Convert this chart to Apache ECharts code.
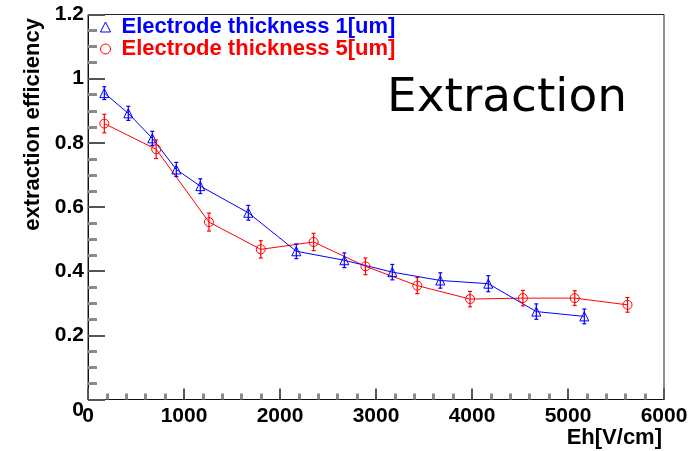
<!DOCTYPE html>
<html>
<head>
<meta charset="utf-8">
<script src="https://cdn.jsdelivr.net/npm/echarts@6/dist/echarts.min.js"></script>
<style>html,body{margin:0;padding:0;background:#fff;}#c{width:700px;height:451px;}</style>
</head>
<body>
<div id="c"></div>
<script>
// ---- data ----
var blueName = 'Electrode thickness 1[um]';
var redName = 'Electrode thickness 5[um]';
var blueX = [170, 420, 670, 920, 1170, 1670, 2170, 2670, 3170, 3670, 4170, 4670, 5170];
var blueY = [0.955, 0.892, 0.814, 0.717, 0.665, 0.582, 0.462, 0.434, 0.397, 0.371, 0.361, 0.274, 0.259];
var blueErr = [0.02, 0.022, 0.022, 0.022, 0.023, 0.023, 0.023, 0.023, 0.024, 0.024, 0.025, 0.024, 0.023];
var redX = [170, 710, 1260, 1800, 2350, 2890, 3430, 3980, 4530, 5070, 5620];
var redY = [0.860, 0.780, 0.553, 0.468, 0.491, 0.415, 0.355, 0.313, 0.316, 0.316, 0.295];
var redErr = [0.029, 0.029, 0.028, 0.027, 0.027, 0.026, 0.025, 0.024, 0.024, 0.023, 0.023];
var xTicks = {min: 0, max: 6000, interval: 1000};
var yTicks = {min: 0, max: 1.2, interval: 0.2};
var xTitle = 'Eh[V/cm]';
var yTitle = 'extraction efficiency';
var label = 'Extraction';

var BLUE = '#0000ff', RED = '#ff0000';
var TICK = '#555555';
var MINOR = '#8a8a8a';
var FONT = '"Liberation Sans", Arial, Helvetica, sans-serif';

function pts(xs, ys) { return xs.map(function (x, i) { return [x, ys[i]]; }); }
function errPts(xs, ys, es) { return xs.map(function (x, i) { return [x, ys[i], es[i]]; }); }

function errRender(color) {
  return function (params, api) {
    var x = api.value(0), y = api.value(1), e = api.value(2);
    var top = api.coord([x, y + e]);
    var bot = api.coord([x, y - e]);
    var cw = 2;
    var st = {stroke: color, lineWidth: 1.2};
    return {
      type: 'group',
      children: [
        {type: 'line', shape: {x1: top[0], y1: top[1], x2: bot[0], y2: bot[1]}, style: st},
        {type: 'line', shape: {x1: top[0] - cw, y1: top[1], x2: top[0] + cw, y2: top[1]}, style: st},
        {type: 'line', shape: {x1: bot[0] - cw, y1: bot[1], x2: bot[0] + cw, y2: bot[1]}, style: st}
      ]
    };
  };
}

var chart = echarts.init(document.getElementById('c'), null, {renderer: 'canvas'});
chart.setOption({
  animation: false,
  backgroundColor: '#ffffff',
  grid: {left: 88, width: 576, top: 14.5, height: 385, show: true, borderColor: '#222', borderWidth: 1, backgroundColor: 'transparent'},
  xAxis: {
    type: 'value', min: xTicks.min, max: xTicks.max, interval: xTicks.interval,
    axisLine: {show: true, onZero: false, lineStyle: {color: '#111', width: 1}},
    axisTick: {show: true, inside: true, length: 11, lineStyle: {color: TICK, width: 2}},
    minorTick: {show: true, splitNumber: 5, length: 6, lineStyle: {color: MINOR, width: 3}},
    splitLine: {show: false},
    axisLabel: {show: true, margin: 6, color: '#000', fontFamily: FONT, fontWeight: 'bold', fontSize: 21,
      formatter: function (v) { return String(v); }}
  },
  yAxis: {
    type: 'value', min: yTicks.min, max: yTicks.max, interval: yTicks.interval,
    axisLine: {show: true, onZero: false, lineStyle: {color: '#111', width: 1}},
    axisTick: {show: true, inside: true, length: 17, lineStyle: {color: TICK, width: 2}},
    minorTick: {show: true, splitNumber: 4, length: 9, lineStyle: {color: MINOR, width: 3}},
    splitLine: {show: false},
    axisLabel: {show: true, margin: 4, color: '#000', fontFamily: FONT, fontWeight: 'bold', fontSize: 21,
      verticalAlignMinLabel: 'top', formatter: function (v) { return String(v); }}
  },
  legend: {
    show: true, orient: 'vertical', left: 100, top: 16, itemGap: 0,
    itemWidth: 10, itemHeight: 10, padding: 0,
    data: [
      {name: blueName, icon: 'triangle', itemStyle: {color: 'transparent', borderColor: BLUE, borderWidth: 1}, textStyle: {color: BLUE}},
      {name: redName, icon: 'circle', itemStyle: {color: 'transparent', borderColor: RED, borderWidth: 1}, textStyle: {color: RED}}
    ],
    textStyle: {fontFamily: FONT, fontWeight: 'bold', fontSize: 22, lineHeight: 16, padding: [0, 0, 0, 6]}
  },
  graphic: [
    {type: 'text', x: 387, y: 99, style: {text: label, font: '47px "DejaVu Sans", sans-serif', fill: '#000', textAlign: 'left', textVerticalAlign: 'middle'}},
    {type: 'text', x: 33, y: 18, rotation: Math.PI / 2, style: {text: yTitle, font: 'bold 22px ' + FONT, fill: '#000', textAlign: 'right', textVerticalAlign: 'middle'}},
    {type: 'text', x: 662, y: 438, style: {text: xTitle, font: 'bold 22px ' + FONT, fill: '#000', textAlign: 'right', textVerticalAlign: 'middle'}}
  ],
  series: [
    {
      name: redName, type: 'line', data: pts(redX, redY),
      symbol: 'circle', symbolSize: 9,
      lineStyle: {color: RED, width: 1},
      itemStyle: {color: 'transparent', borderColor: RED, borderWidth: 1},
      z: 3
    },
    {
      name: blueName, type: 'line', data: pts(blueX, blueY),
      symbol: 'triangle', symbolSize: 9,
      lineStyle: {color: BLUE, width: 1},
      itemStyle: {color: 'transparent', borderColor: BLUE, borderWidth: 1},
      z: 3
    },
    {name: 'redErr', type: 'custom', data: errPts(redX, redY, redErr), renderItem: errRender(RED), z: 4},
    {name: 'blueErr', type: 'custom', data: errPts(blueX, blueY, blueErr), renderItem: errRender(BLUE), z: 4}
  ]
});
</script>
</body>
</html>
